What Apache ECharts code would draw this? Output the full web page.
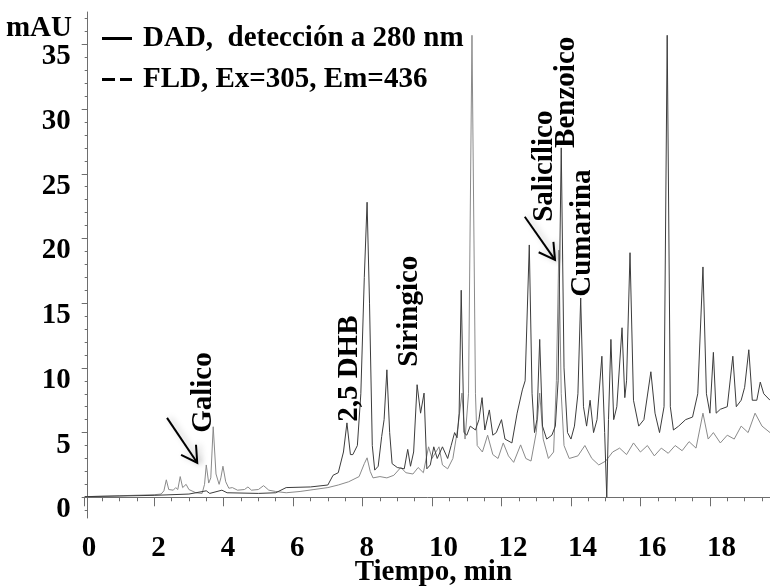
<!DOCTYPE html>
<html><head><meta charset="utf-8">
<script src="https://cdn.jsdelivr.net/npm/echarts@6/dist/echarts.min.js"></script>
<style>html,body{margin:0;padding:0;background:#fff}#c{width:770px;height:587px}</style>
</head><body><div id="c"></div>
<script>
const dadName = 'DAD,  detección a 280 nm';
const fldName = 'FLD, Ex=305, Em=436';
const xTitle = 'Tiempo, min';
const yTitle = 'mAU';
const xMajorTicks = [0, 2, 4, 6, 8, 10, 12, 14, 16, 18];
const xMinorTicks = [0.5, 1, 1.5, 2.5, 3, 3.5, 4.5, 5, 5.5, 6.5, 7, 7.5, 8.5, 9, 9.5, 10.5, 11, 11.5, 12.5, 13, 13.5, 14.5, 15, 15.5, 16.5, 17, 17.5, 18.5, 19, 19.5];
const yMajorTicks = [0, 5, 10, 15, 20, 25, 30, 35];
const yMinorTicks = [-1, 1, 2, 3, 4, 6, 7, 8, 9, 11, 12, 13, 14, 16, 17, 18, 19, 21, 22, 23, 24, 26, 27, 28, 29, 31, 32, 33, 34, 36, 37];

// [time (min), mAU]
const dadData = [[0,0.05],[2,0.15],[3,0.25],[3.5,0.5],[3.6,0.3],[3.95,0.55],[4.1,0.35],[5.0,0.3],[5.5,0.35],[5.8,0.75],[6.5,0.8],[7.0,0.95],[7.15,1.7],[7.3,1.9],[7.45,3.5],[7.55,5.75],[7.65,3.3],[7.72,3.3],[7.85,4.0],[7.95,8],[8.05,17],[8.13,22.8],[8.2,15],[8.28,4],[8.35,2.1],[8.45,2.4],[8.55,4.7],[8.62,6],[8.7,9.85],[8.78,5],[8.85,2.6],[9.0,2.3],[9.2,2.2],[9.3,3.7],[9.38,2.4],[9.47,3.5],[9.57,8.7],[9.67,6.5],[9.77,8.05],[9.85,2.2],[9.95,2.5],[10.05,3.9],[10.15,3.0],[10.3,3.9],[10.45,3.0],[10.55,4.0],[10.65,5.0],[10.72,4.6],[10.78,6.5],[10.84,16.0],[10.92,5],[11.0,4.8],[11.1,5.5],[11.25,5.2],[11.35,6],[11.44,7.7],[11.52,5.2],[11.65,6.75],[11.75,4.8],[11.85,5.0],[12.0,6.0],[12.1,4.5],[12.3,4.2],[12.45,6.5],[12.6,8.3],[12.68,9],[12.8,19.5],[12.88,8],[12.95,5],[13.02,6],[13.1,12.2],[13.18,5.5],[13.3,4.5],[13.45,4.8],[13.55,5.5],[13.63,9],[13.72,27.0],[13.8,10],[13.9,5],[14.0,4.5],[14.1,5.5],[14.2,8],[14.28,15.4],[14.36,7],[14.45,5.5],[14.55,7.5],[14.65,5.0],[14.75,6],[14.89,10.9],[14.97,5],[15.03,0.0],[15.08,6],[15.15,12.2],[15.23,6],[15.32,7],[15.47,13.1],[15.55,7.7],[15.6,9],[15.7,18.9],[15.8,7.5],[15.95,5.5],[16.1,6],[16.3,9.7],[16.42,6.5],[16.55,5.0],[16.68,7],[16.77,35.7],[16.86,7],[16.95,5.2],[17.1,5.5],[17.3,6.0],[17.5,6.2],[17.65,8],[17.8,17.8],[17.9,8],[18.0,6.5],[18.1,11.2],[18.18,6.5],[18.3,6.8],[18.5,7],[18.66,10.9],[18.76,7],[18.9,7.5],[19.0,8.5],[19.12,11.4],[19.22,7.5],[19.35,7.5],[19.45,8.9],[19.55,8],[19.73,7.5]];
const fldData = [[0,0.05],[1,0.12],[2,0.2],[2.2,0.25],[2.28,0.5],[2.35,1.35],[2.42,0.6],[2.55,0.55],[2.62,0.75],[2.68,0.6],[2.75,1.6],[2.82,0.75],[2.92,1.0],[3.0,0.6],[3.2,0.35],[3.38,0.3],[3.45,1.0],[3.5,2.5],[3.57,1.1],[3.63,1.5],[3.7,5.45],[3.78,1.8],[3.87,1.0],[3.92,1.5],[3.98,2.4],[4.06,1.2],[4.15,0.7],[4.25,0.75],[4.4,0.55],[4.6,0.6],[4.7,0.8],[4.8,0.55],[5.0,0.6],[5.15,0.9],[5.3,0.55],[5.5,0.45],[5.8,0.35],[6.2,0.45],[6.6,0.6],[7.0,0.75],[7.3,0.95],[7.6,1.2],[7.9,1.6],[8.05,2.6],[8.13,3.05],[8.22,2.0],[8.3,1.5],[8.5,1.6],[8.7,1.5],[8.9,1.7],[9.1,2.3],[9.25,1.9],[9.45,1.8],[9.6,2.3],[9.75,1.9],[9.9,3.9],[10.0,3.0],[10.2,3.9],[10.3,2.5],[10.45,2.2],[10.6,3.0],[10.75,5.5],[10.86,8.05],[10.95,4.5],[11.05,8],[11.15,35.7],[11.25,8],[11.3,4],[11.45,3.5],[11.6,4.8],[11.75,3.3],[11.9,3.0],[12.05,4.2],[12.2,3.2],[12.35,2.7],[12.55,4.05],[12.7,3.0],[12.85,2.8],[13.0,5.0],[13.1,8.05],[13.2,4.5],[13.35,3.0],[13.5,3.5],[13.58,9],[13.65,19.1],[13.72,8],[13.8,4],[13.95,3.0],[14.2,3.2],[14.4,4.0],[14.6,3.0],[14.8,2.5],[15.0,2.8],[15.2,3.5],[15.4,3.8],[15.6,3.3],[15.8,4.2],[16.0,3.5],[16.2,4.0],[16.4,3.2],[16.6,3.8],[16.8,3.4],[17.0,4.0],[17.2,3.6],[17.4,4.3],[17.6,3.8],[17.8,6.5],[17.95,4.5],[18.1,5.0],[18.3,4.2],[18.5,4.8],[18.7,4.5],[18.9,5.5],[19.1,5.0],[19.3,6.5],[19.5,5.5],[19.73,5.0]];

const peakNames = ['Galico', '2,5 DHB', 'Siringico', 'Salicílico', 'Benzoico', 'Cumarina'];
const peakNameTimes = [3.41, 7.61, 9.34, 13.25, 13.88, 14.34];
const peakNameValues = [4.98, 5.83, 10.08, 21.29, 27.0, 15.5];
// arrows: [tStart, vStart, tEnd, vEnd]
const arrowSegs = [[2.37, 6.14, 3.24, 2.67], [12.67, 21.68, 13.54, 18.35]];

const FONT = 'Liberation Serif, Times New Roman, serif';
const FS = 29;
const chart = echarts.init(document.getElementById('c'), null, {renderer: 'canvas'});
const axisCol = '#6e6e6e';
const X_MIN = 0, X_MAX = 19.73, Y_MIN = -1.6, Y_MAX = 37.5;

const option = {
  backgroundColor: '#fff',
  animation: false,
  grid: {left: 84.7, right: 0, top: 12, bottom: 69, containLabel: false, outerBoundsMode: 'none'},
  legend: {
    orient: 'vertical', left: 97, top: 19, itemWidth: 30, itemHeight: 3, itemGap: 12,
    textStyle: {fontFamily: FONT, fontWeight: 'bold', fontSize: FS, color: '#000', lineHeight: 28, padding: [0, 0, 0, 6]},
    data: [
      {name: dadName, icon: 'rect', itemStyle: {color: '#000'}},
      {name: fldName, icon: 'path://M0,0H13V3H0Z M18,0H30V3H18Z', itemStyle: {color: '#000'}}
    ]
  },
  xAxis: [{
    type: 'value', min: X_MIN, max: X_MAX, position: 'bottom',
    name: xTitle, nameLocation: 'middle', nameGap: 40, nameMoveOverlap: false,
    nameTextStyle: {fontFamily: FONT, fontWeight: 'bold', fontSize: FS, color: '#000', padding: [0, 0, 0, 12]},
    axisLine: {lineStyle: {color: axisCol, width: 1}},
    axisTick: {customValues: xMajorTicks, length: 9, lineStyle: {color: axisCol}},
    axisLabel: {customValues: xMajorTicks, margin: 16, align: 'left', padding: [0, 0, 0, -3], fontFamily: FONT, fontWeight: 'bold', fontSize: FS, color: '#000'},
    splitLine: {show: false}
  }, {
    type: 'value', min: X_MIN, max: X_MAX, position: 'bottom',
    axisLine: {show: false},
    axisTick: {customValues: xMinorTicks, length: 4, lineStyle: {color: axisCol}},
    axisLabel: {show: false}, splitLine: {show: false}
  }],
  yAxis: [{
    type: 'value', min: Y_MIN, max: Y_MAX, position: 'left', offset: -3,
    axisLine: {onZero: false, lineStyle: {color: axisCol, width: 1}},
    axisTick: {customValues: yMajorTicks, length: 6, lineStyle: {color: axisCol}},
    axisLabel: {customValues: yMajorTicks, margin: 17, verticalAlign: 'middle', lineHeight: 25,
      formatter: v => '\n' + v, fontFamily: FONT, fontWeight: 'bold', fontSize: FS, color: '#000'},
    splitLine: {show: false}
  }, {
    type: 'value', min: Y_MIN, max: Y_MAX, position: 'left', offset: -3,
    axisLine: {show: false},
    axisTick: {customValues: yMinorTicks, length: 3, lineStyle: {color: axisCol}},
    axisLabel: {show: false}, splitLine: {show: false}
  }],
  series: [
    {name: dadName, type: 'line', data: dadData, showSymbol: false, symbol: 'none', lineStyle: {color: '#3c3c3c', width: 1}, itemStyle: {color: '#000'}, z: 3},
    {name: fldName, type: 'line', data: fldData, showSymbol: false, symbol: 'none', lineStyle: {color: '#8a8a8a', width: 1}, itemStyle: {color: '#000'}, z: 2}
  ]
};
chart.setOption(option);

const g = [];
// y-axis unit title
g.push({type: 'text', x: 72, y: 29, style: {text: yTitle, fontFamily: FONT, fontWeight: 'bold', fontSize: FS, fill: '#000', align: 'right', verticalAlign: 'middle'}, z: 10});
peakNames.forEach((nm, i) => {
  const p = chart.convertToPixel({gridIndex: 0}, [peakNameTimes[i], peakNameValues[i]]);
  g.push({type: 'text', x: p[0], y: p[1], rotation: Math.PI / 2,
    style: {text: nm, fontFamily: FONT, fontWeight: 'bold', fontSize: FS, fill: '#000', align: 'left', verticalAlign: 'middle'}, z: 10});
});
arrowSegs.forEach(s => {
  const a = chart.convertToPixel({gridIndex: 0}, [s[0], s[1]]);
  const b = chart.convertToPixel({gridIndex: 0}, [s[2], s[3]]);
  const dx = a[0] - b[0], dy = a[1] - b[1];
  const L = Math.hypot(dx, dy), ux = dx / L, uy = dy / L;
  const ang = Math.PI / 6, h = 18;
  const r1 = [b[0] + h * (ux * Math.cos(ang) - uy * Math.sin(ang)), b[1] + h * (ux * Math.sin(ang) + uy * Math.cos(ang))];
  const r2 = [b[0] + h * (ux * Math.cos(-ang) - uy * Math.sin(-ang)), b[1] + h * (ux * Math.sin(-ang) + uy * Math.cos(-ang))];
  const sty = {stroke: '#000', lineWidth: 2, shadowBlur: 6, shadowColor: 'rgba(0,0,0,0.25)', shadowOffsetX: 3, shadowOffsetY: 0};
  g.push({type: 'polyline', shape: {points: [a, b]}, style: sty, z: 10});
  g.push({type: 'polyline', shape: {points: [r1, b, r2]}, style: sty, z: 10});
});
chart.setOption({graphic: g});
</script></body></html>
